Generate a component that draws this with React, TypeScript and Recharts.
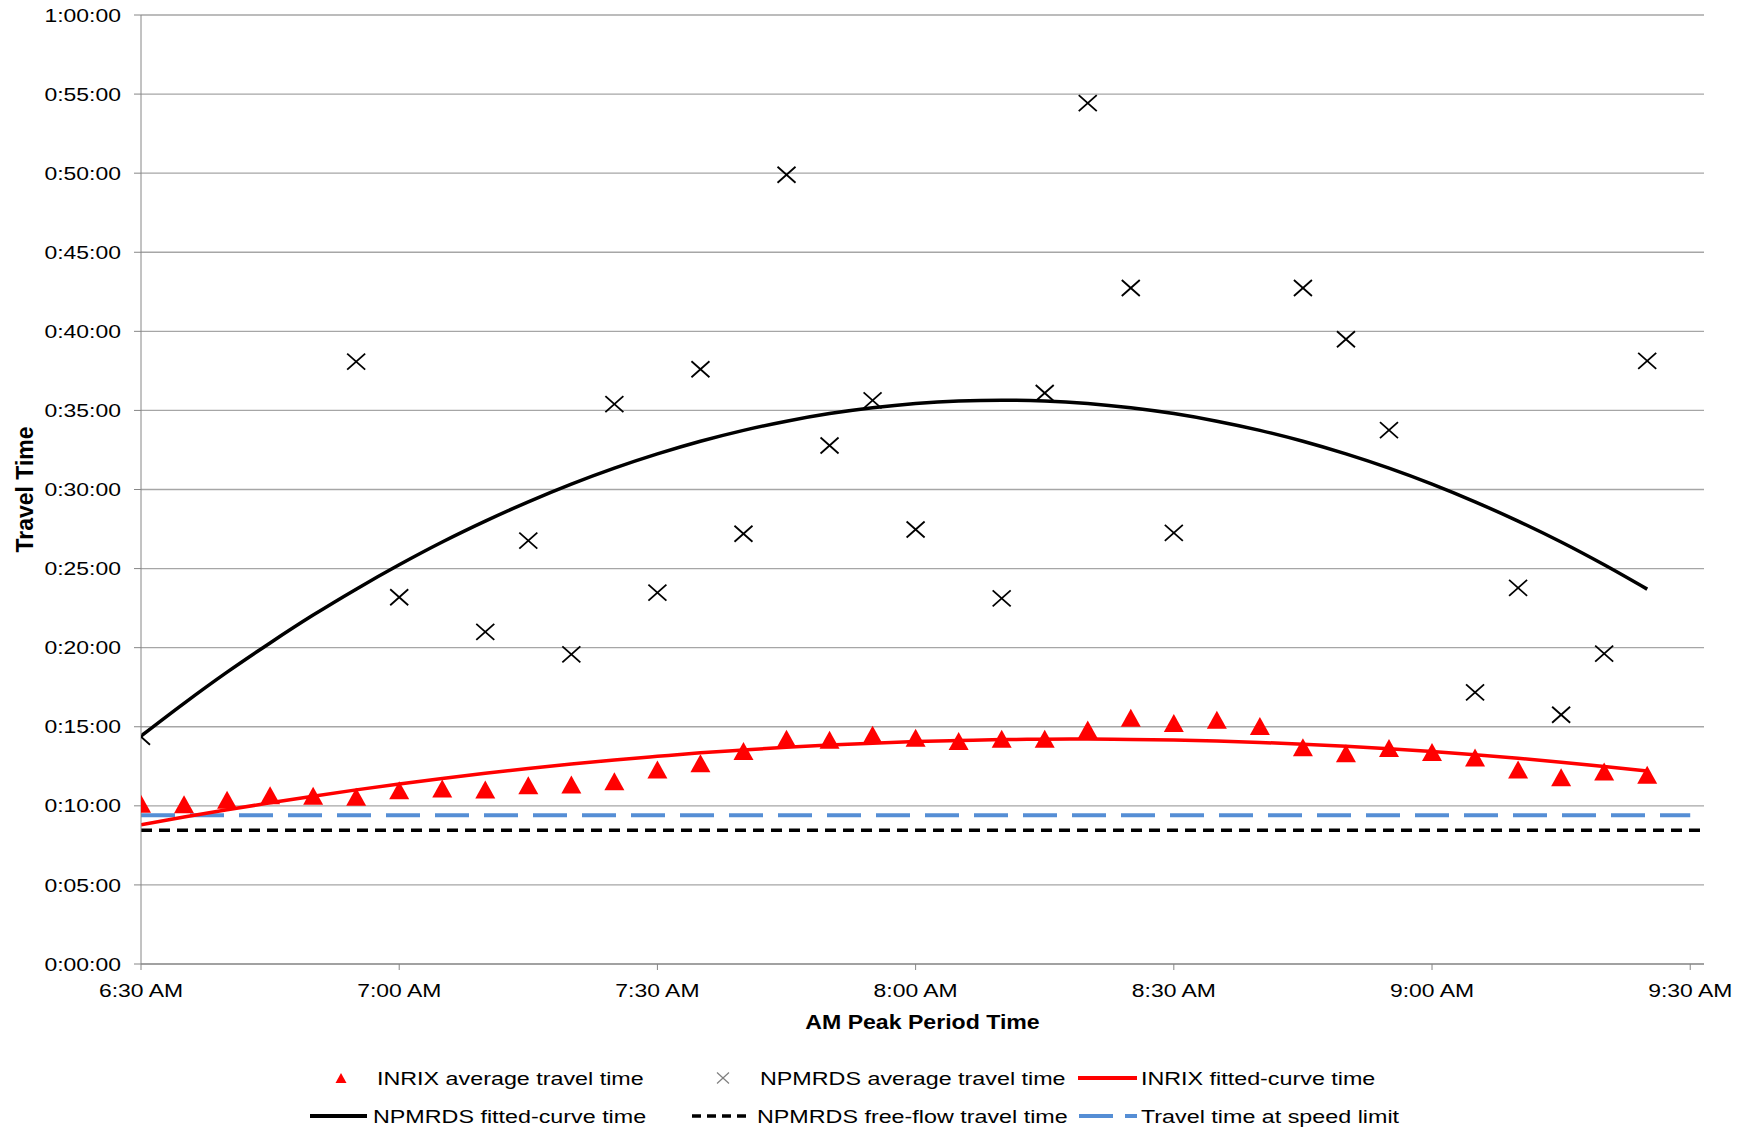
import React from "react";
import {
  CartesianGrid,
  ComposedChart,
  Line,
  ReferenceLine,
  Scatter,
  XAxis,
  YAxis
} from "recharts";

// 5-minute bins, AM peak
const TIMES = [
  "6:30", "6:35", "6:40", "6:45", "6:50", "6:55",
  "7:00", "7:05", "7:10", "7:15", "7:20", "7:25",
  "7:30", "7:35", "7:40", "7:45", "7:50", "7:55",
  "8:00", "8:05", "8:10", "8:15", "8:20", "8:25",
  "8:30", "8:35", "8:40", "8:45", "8:50", "8:55",
  "9:00", "9:05", "9:10", "9:15", "9:20", "9:25"
];
const X_TICKS = ["6:30", "7:00", "7:30", "8:00", "8:30", "9:00", "9:30"];
const Y_TICKS = [0, 5, 10, 15, 20, 25, 30, 35, 40, 45, 50, 55, 60];

// travel times in minutes
const INRIX_AVG = [
  10.13, 10.1, 10.38, 10.67, 10.63, 10.57, 10.99, 11.1, 11.03, 11.3, 11.35, 11.55,
  12.3, 12.7, 13.46, 14.24, 14.18, 14.5, 14.3, 14.1, 14.24, 14.24, 14.83, 15.57,
  15.23, 15.44, 15.04, 13.7, 13.33, 13.65, 13.4, 13.06, 12.3, 11.8, 12.17, 11.96
];
const NPMRDS_AVG: (number | null)[] = [
  14.37, null, null, null, null, 38.08, 23.19, null, 21.0, 26.77, 19.58, 35.4,
  23.48, 37.6, 27.2, 49.9, 32.78, 35.63, 27.47, null, 23.12, 36.1, 54.43, 42.74,
  27.26, null, null, 42.74, 39.5, 33.75, null, 17.17, 23.78, 15.76, 19.62, 38.13
];
const INRIX_FIT = [
  8.8, 9.29, 9.75, 10.19, 10.61, 11.01, 11.38, 11.73, 12.06, 12.36, 12.64, 12.9,
  13.13, 13.35, 13.53, 13.7, 13.84, 13.96, 14.06, 14.13, 14.19, 14.21, 14.22, 14.2,
  14.16, 14.1, 14.01, 13.9, 13.77, 13.61, 13.43, 13.23, 13.01, 12.76, 12.49, 12.2
];
const NPMRDS_FIT = [
  14.41, 16.48, 18.45, 20.3, 22.06, 23.7, 25.24, 26.68, 28.0, 29.22, 30.34, 31.35,
  32.25, 33.05, 33.74, 34.32, 34.8, 35.17, 35.44, 35.6, 35.65, 35.6, 35.44, 35.17,
  34.8, 34.32, 33.74, 33.05, 32.25, 31.35, 30.34, 29.22, 28.0, 26.68, 25.24, 23.7
];
const FREE_FLOW = 8.45;
const SPEED_LIMIT = 9.4;

const FONT = "'Liberation Sans', Arial, sans-serif";
const BLUE = "#558ed5";
const RED = "#ff0000";

const toMin = (s: string) => {
  const [h, m] = s.split(":").map(Number);
  return h * 60 + m;
};
const fmtClock = (v: number) => {
  const h = Math.floor(v / 60);
  const m = Math.round(v % 60);
  return `${h}:${String(m).padStart(2, "0")} AM`;
};
const fmtDur = (v: number) => {
  const h = Math.floor(v / 60);
  const m = Math.round(v % 60);
  return `${h}:${String(m).padStart(2, "0")}:00`;
};

const rows = TIMES.map((t, i) => ({
  t: toMin(t),
  inrixFit: INRIX_FIT[i],
  npmFit: NPMRDS_FIT[i]
}));
const inrixPts = TIMES.map((t, i) => ({ t: toMin(t), v: INRIX_AVG[i] }));
const npmPts = TIMES.map((t, i) => ({ t: toMin(t), v: NPMRDS_AVG[i] })).filter(
  (p) => p.v !== null
);

function YTick(props: any) {
  const { x, y, payload } = props;
  return (
    <text
      transform={`translate(${x},${y}) scale(1.24,1)`}
      textAnchor="end"
      dy={6.6}
      fontSize={18.5}
      fontFamily={FONT}
      fill="#000"
    >
      {fmtDur(payload.value)}
    </text>
  );
}

function XTick(props: any) {
  const { x, y, payload } = props;
  return (
    <text
      transform={`translate(${x},${y}) scale(1.24,1)`}
      textAnchor="middle"
      dy={13.3}
      fontSize={18.5}
      fontFamily={FONT}
      fill="#000"
    >
      {fmtClock(payload.value)}
    </text>
  );
}

function Triangle(props: any) {
  const { cx, cy, w = 20, h = 18, fill = RED } = props;
  if (cx == null || cy == null) return null;
  return (
    <polygon
      points={`${cx},${cy - h / 2} ${cx + w / 2},${cy + h / 2} ${cx - w / 2},${cy + h / 2}`}
      fill={fill}
    />
  );
}

function Cross(props: any) {
  const { cx, cy, w = 18, h = 16, stroke = "#000", sw = 1.8 } = props;
  if (cx == null || cy == null) return null;
  return (
    <g stroke={stroke} strokeWidth={sw}>
      <line x1={cx - w / 2} y1={cy - h / 2} x2={cx + w / 2} y2={cy + h / 2} />
      <line x1={cx - w / 2} y1={cy + h / 2} x2={cx + w / 2} y2={cy - h / 2} />
    </g>
  );
}

function LegendText(props: { x: number; y: number; children: string }) {
  return (
    <text
      transform={`translate(${props.x},${props.y + 6.6}) scale(1.26,1)`}
      fontSize={18.5}
      fontFamily={FONT}
      fill="#000"
    >
      {props.children}
    </text>
  );
}

function ChartLegend() {
  const r1 = 1078;
  const r2 = 1116;
  return (
    <svg
      width={1754}
      height={1133}
      style={{ position: "absolute", left: 0, top: 0, pointerEvents: "none" }}
    >
      <Triangle cx={341} cy={r1} w={11} h={10} />
      <LegendText x={377} y={r1}>INRIX average travel time</LegendText>
      <Cross cx={723} cy={r1} w={12} h={11} stroke="#7f7f7f" sw={1.2} />
      <LegendText x={760} y={r1}>NPMRDS average travel time</LegendText>
      <line x1={1078} x2={1137} y1={r1} y2={r1} stroke={RED} strokeWidth={4} />
      <LegendText x={1141} y={r1}>INRIX fitted-curve time</LegendText>

      <line x1={310} x2={367} y1={r2} y2={r2} stroke="#000" strokeWidth={4} />
      <LegendText x={373} y={r2}>NPMRDS fitted-curve time</LegendText>
      <line x1={692} x2={750} y1={r2} y2={r2} stroke="#000" strokeWidth={3.5} strokeDasharray="9 6" />
      <LegendText x={757} y={r2}>NPMRDS free-flow travel time</LegendText>
      <line x1={1079} x2={1137} y1={r2} y2={r2} stroke={BLUE} strokeWidth={4} strokeDasharray="34 12" />
      <LegendText x={1141} y={r2}>Travel time at speed limit</LegendText>
    </svg>
  );
}

export default function App() {
  const xMin = toMin(X_TICKS[0]);
  const xMax = toMin(X_TICKS[X_TICKS.length - 1]);
  return (
    <div
      style={{
        position: "fixed",
        left: 0,
        top: 0,
        width: 1754,
        height: 1133,
        background: "#fff"
      }}
    >
      <ComposedChart
        width={1754}
        height={1133}
        data={rows}
        margin={{ top: 15, right: 50, bottom: 99, left: 0 }}
      >
        <CartesianGrid vertical={false} stroke="#a6a6a6" strokeWidth={1.3} />
        <XAxis
          dataKey="t"
          type="number"
          domain={[xMin, xMax + 1.6]}
          ticks={X_TICKS.map(toMin)}
          allowDataOverflow
          height={70}
          tick={<XTick />}
          tickSize={6}
          tickMargin={14}
          stroke="#868686"
          tickLine={{ stroke: "#868686" }}
          label={{
            position: "insideBottom",
            content: (p: any) => {
              const vb = p.viewBox || { x: 141, y: 964, width: 1563, height: 70 };
              return (
                <text
                  transform={`translate(${vb.x + vb.width / 2},${vb.y + vb.height - 5}) scale(1.1,1)`}
                  textAnchor="middle"
                  fontSize={21}
                  fontWeight="bold"
                  fontFamily={FONT}
                  fill="#000"
                >
                  AM Peak Period Time
                </text>
              );
            }
          }}
        />
        <YAxis
          type="number"
          domain={[0, 60]}
          ticks={Y_TICKS}
          width={141}
          tick={<YTick />}
          tickSize={7}
          tickMargin={13}
          stroke="#868686"
          tickLine={{ stroke: "#868686" }}
          label={{
            position: "insideLeft",
            content: (p: any) => {
              const vb = p.viewBox || { x: 0, y: 15, width: 141, height: 949 };
              return (
                <text
                  transform={`translate(${vb.x + 25},${vb.y + vb.height / 2}) rotate(-90)`}
                  textAnchor="middle"
                  dy={8.2}
                  fontSize={23}
                  fontWeight="bold"
                  fontFamily={FONT}
                  fill="#000"
                >
                  Travel Time
                </text>
              );
            }
          }}
        />
        <ReferenceLine
          y={FREE_FLOW}
          stroke="#000"
          strokeWidth={3.5}
          strokeDasharray="11 7"
        />
        <ReferenceLine
          segment={[
            { x: xMin, y: SPEED_LIMIT },
            { x: xMax, y: SPEED_LIMIT }
          ]}
          stroke={BLUE}
          strokeWidth={4}
          strokeDasharray="34 15"
        />
        <Line
          dataKey="npmFit"
          type="monotone"
          stroke="#000"
          strokeWidth={3.5}
          dot={false}
          activeDot={false}
          isAnimationActive={false}
        />
        <Line
          dataKey="inrixFit"
          type="monotone"
          stroke={RED}
          strokeWidth={3.5}
          dot={false}
          activeDot={false}
          isAnimationActive={false}
        />
        <Scatter
          data={npmPts}
          dataKey="v"
          shape={(p: any) => <Cross cx={p.cx} cy={p.cy} />}
          isAnimationActive={false}
        />
        <Scatter
          data={inrixPts}
          dataKey="v"
          shape={(p: any) => <Triangle cx={p.cx} cy={p.cy} />}
          isAnimationActive={false}
        />
      </ComposedChart>
      <ChartLegend />
    </div>
  );
}
